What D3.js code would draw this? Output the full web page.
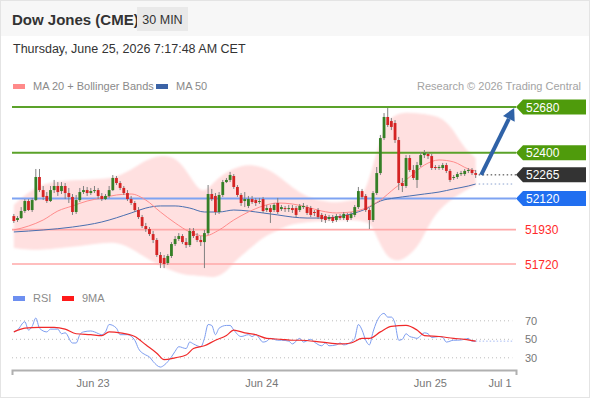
<!DOCTYPE html>
<html>
<head>
<meta charset="utf-8">
<script src="https://cdn.jsdelivr.net/npm/d3@7"></script>
<style>
  body { margin: 0; background: #fff; }
  text { font-family: "Liberation Sans", Arial, sans-serif; }
</style>
</head>
<body>
<svg width="590" height="400"></svg>
<script>
// 30 min candles, Jun 22 evening -> Jun 25 morning
const candleOpen = [52013,51989,52001,52044,52105,52050,52111,52252,52172,52136,
  52105,52172,52197,52166,52197,52154,52130,52038,52111,52160,
  52172,52154,52166,52172,52136,52117,52136,52172,52246,52215,
  52185,52154,52117,52093,52050,52007,51952,51934,51903,51867,
  51775,51757,51726,51769,51842,51873,51891,51854,51836,51922,
  51891,51867,51854,51909,52148,52136,52038,52142,52221,52234,
  52258,52191,52142,52105,52075,52117,52111,52099,52117,52050,
  52062,52050,52093,52056,52062,52056,52062,52062,52050,52068,
  52068,52062,52038,52050,52020,52013,51995,52007,51989,52013,
  52001,52020,52001,52020,52068,52166,52136,52050,51989,52154,
  52276,52490,52619,52594,52582,52478,52215,52197,52368,52295,
  52234,52325,52386,52393,52380,52313,52307,52307,52325,52289,
  52246,52252,52270,52270,52289,52295,52276];
const candleHigh = [52026,52013,52068,52117,52117,52124,52301,52301,52197,52160,
  52197,52234,52221,52221,52215,52185,52148,52142,52185,52197,
  52191,52185,52197,52185,52154,52148,52197,52264,52258,52227,
  52197,52172,52136,52105,52068,52020,51971,51946,51922,51879,
  51793,51775,51781,51854,51891,51909,51903,51879,51940,51940,
  51909,51891,51928,52203,52179,52154,52160,52234,52246,52283,
  52270,52203,52154,52160,52136,52136,52124,52124,52130,52081,
  52081,52093,52124,52081,52075,52081,52081,52075,52087,52093,
  52081,52075,52050,52062,52032,52026,52020,52020,52026,52026,
  52038,52032,52038,52081,52191,52179,52148,52062,52166,52313,
  52509,52643,52674,52613,52600,52497,52246,52386,52386,52325,
  52344,52405,52417,52405,52393,52325,52325,52338,52338,52301,
  52264,52283,52289,52301,52307,52307,52295];
const candleLow = [51971,51977,51995,52032,52044,52038,52105,52160,52111,52093,
  52099,52154,52136,52148,52117,52093,52020,52026,52099,52148,
  52136,52142,52154,52117,52105,52111,52124,52166,52203,52172,
  52142,52105,52081,52038,51995,51940,51916,51891,51848,51763,
  51695,51695,51714,51757,51830,51861,51842,51818,51824,51879,
  51854,51830,51695,51897,52105,52020,52026,52130,52215,52221,
  52179,52130,52075,52068,52062,52087,52075,52087,52032,52038,
  51971,52038,52026,52044,52038,52038,52032,52007,52038,52056,
  52020,52007,52013,51995,51977,51971,51983,51971,51977,51989,
  51989,51977,51989,52007,52056,52117,52038,51934,51977,52142,
  52264,52478,52558,52539,52460,52172,52160,52185,52283,52234,
  52185,52313,52368,52362,52295,52295,52295,52295,52276,52221,
  52234,52240,52258,52258,52276,52264,52246];
const candleClose = [51983,52001,52044,52105,52050,52111,52252,52172,52130,52105,
  52172,52197,52160,52197,52154,52130,52038,52111,52160,52172,
  52154,52166,52172,52136,52117,52136,52172,52246,52215,52185,
  52154,52117,52093,52050,52007,51952,51934,51903,51867,51775,
  51726,51720,51769,51842,51873,51891,51854,51836,51922,51891,
  51867,51854,51909,52148,52117,52038,52142,52221,52234,52264,
  52191,52142,52093,52117,52117,52099,52093,52105,52044,52062,
  52038,52081,52038,52068,52056,52062,52050,52020,52075,52075,
  52032,52020,52032,52007,51995,51989,52007,51983,52013,52001,
  52026,51989,52026,52068,52166,52130,52050,51989,52154,52276,
  52490,52619,52570,52558,52478,52215,52197,52368,52295,52246,
  52325,52386,52399,52380,52307,52307,52313,52325,52289,52234,
  52252,52270,52276,52289,52295,52276,52265];

// indicators at candle positions
const upperAt = [0,4,8,12,16,20,24,28,32,36,40,44,47,50,52,54,56,60,64,68,72,76,80,84,88,92,94,96,98,100,102,106,110,114,117,120,122,124,126];
const upperBand = [52081,52160,52209,52227,52234,52234,52240,52252,52295,52356,52386,52374,52295,52185,52160,52203,52252,52307,52331,52313,52264,52185,52130,52105,52093,52111,52111,52172,52325,52478,52613,52649,52643,52631,52613,52539,52460,52405,52368];
const lowerAt = [0,4,8,12,16,20,24,28,32,36,40,44,48,52,55,58,60,64,68,72,76,80,84,88,92,95,97,98,100,102,105,108,111,114,118,122,126];
const lowerBand = [51818,51806,51806,51818,51824,51836,51848,51854,51818,51757,51708,51671,51647,51647,51634,51671,51732,51806,51885,51928,51965,51977,51983,51983,51989,51983,51971,51940,51836,51757,51732,51775,51848,52001,52093,52154,52203];
const ma20At = [0,4,8,12,16,20,24,28,32,36,40,44,48,52,56,60,64,68,72,76,80,84,88,92,96,100,104,108,112,116,120,124,126];
const ma20 = [51928,51952,51989,52044,52075,52105,52124,52142,52148,52111,52038,51971,51916,51891,51928,51989,52038,52075,52093,52087,52068,52044,52032,52038,52062,52111,52185,52252,52325,52356,52344,52301,52289];
const ma50At = [0,8,16,24,32,36,40,44,48,52,56,60,64,68,72,76,80,84,88,92,96,100,104,108,112,116,120,124,126];
const ma50 = [51916,51928,51946,51977,52032,52062,52075,52075,52062,52038,52038,52050,52044,52032,52020,52007,52001,52001,52007,52026,52056,52105,52124,52136,52148,52160,52179,52197,52209];

const rsiAt = [0,1,3,4,5,6,7,9,10,12,13,14,16,17,18,19,21,22,24,25,26,28,29,31,33,34,36,37,38,40,41,43,44,45,47,48,49,51,52,53,54,55,56,58,59,60,62,64,65,66,68,69,70,72,73,75,76,78,79,81,82,84,85,86,88,89,90,92,93,94,95,96,97,98,99,101,102,103,104,105,106,107,108,109,110,112,113,114,116,117,118,120,121,123,124,125,126];
const rsi = [58,60,69,60,64,73,62,58,61,61,56,57,46,46,55,58,59,58,55,58,66,62,55,55,49,40,33,31,26,20,22,31,37,42,40,47,45,42,51,66,65,55,62,65,65,60,53,55,53,55,47,48,51,49,49,48,45,51,47,50,47,43,46,43,44,46,44,47,51,66,60,49,44,58,69,78,74,74,67,49,50,56,53,52,51,57,56,52,53,52,47,49,49,50,51,48,48];
const rsiMaAt = [0,3,7,11,14,17,21,24,26,29,33,36,39,41,44,47,49,52,55,58,60,63,66,69,73,76,78,84,89,92,95,97,100,103,107,110,112,116,120,123,126];
const rsiMa = [58,62,63,63,61,56,55,54,58,57,53,44,35,28,30,33,40,43,49,54,60,57,55,51,50,49,49,47,45,46,51,51,58,64,65,60,54,53,51,50,48];

const levels = [52680, 52400, 52265, 52120, 51930, 51720];
const levelKind = ["res", "res", "last", "sup", "red", "red"];
const rsiTicks = [70, 50, 30];
const dayAt = [21.5, 67.5, 113.5, 132.5];
const dayLabels = ["Jun 23", "Jun 24", "Jun 25", "Jul 1"];

const green = "#357f26", red = "#d42424";
const lineColor = { res: "#5ba22a", last: "#333", sup: "#7ea3f2", red: "#ffa8a8" };
const tagColor = { res: "#4f9b0c", last: "#333333", sup: "#216ff0" };

const svg = d3.select("svg");

const xScale = d3.scaleLinear().domain([-0.5, 137]).range([12, 516]);
const yScale = d3.scaleLinear().domain([51720, 52680]).range([264, 107]);
const rsiScale = d3.scaleLinear().domain([30, 70]).range([357.8, 320.8]);

// frame + header
svg.append("rect").attr("x", 0.5).attr("y", 0.5).attr("width", 589).attr("height", 397)
  .attr("fill", "#fff").attr("stroke", "#e4e4e4");
svg.append("rect").attr("x", 1).attr("y", 1).attr("width", 588).attr("height", 35).attr("fill", "#f7f7f7");
svg.append("text").text("Dow Jones (CME)").attr("x", 12).attr("y", 25)
  .attr("font-size", 15).attr("font-weight", "bold").attr("fill", "#333");
svg.append("rect").attr("x", 137).attr("y", 7).attr("width", 51).attr("height", 24).attr("fill", "#e9e9e9");
svg.append("text").text("30 MIN").attr("x", 162.5).attr("y", 24).attr("text-anchor", "middle")
  .attr("font-size", 12.5).attr("fill", "#333");
svg.append("text").text("Thursday, June 25, 2026 7:17:48 AM CET").attr("x", 13).attr("y", 53)
  .attr("font-size", 12.5).attr("fill", "#333");

// legend
const legend = (x, color, label, y) => {
  svg.append("rect").attr("x", x).attr("y", y - 6).attr("width", 12).attr("height", 5).attr("fill", color);
  svg.append("text").text(label).attr("x", x + 20).attr("y", y).attr("font-size", 11).attr("fill", "#8a8a8a");
};
legend(13, "#ff8a8a", "MA 20 + Bollinger Bands", 90);
legend(156, "#3b63a6", "MA 50", 90);
svg.append("text").text("Research \u00a9 2026 Trading Central").attr("x", 581).attr("y", 90)
  .attr("text-anchor", "end").attr("font-size", 11).attr("fill", "#a3a3a3");

// bollinger band
const defs = svg.append("defs");
defs.append("filter").attr("id", "soft").append("feGaussianBlur").attr("stdDeviation", 1.2);

const upperFn = d3.scaleLinear().domain(upperAt).range(upperBand);
const lowerFn = d3.scaleLinear().domain(lowerAt).range(lowerBand);
const bandPts = upperAt.map((d, i) => [xScale(d), yScale(upperBand[i])]);
const lowPts = lowerAt.map((d, i) => [xScale(d), yScale(lowerBand[i])]).reverse();
const smooth = d3.line().curve(d3.curveBasis);
svg.append("path")
  .attr("d", smooth(bandPts) + "L" + smooth(lowPts).slice(1) + "Z")
  .attr("fill", "#ffe0e0").attr("filter", "url(#soft)");

// level lines
const graph = svg.append("g");
levels.forEach((v, i) => {
  const kind = levelKind[i];
  const y = yScale(v);
  if (kind === "last") {
    graph.append("line").attr("x1", xScale(126) + 3).attr("x2", xScale(137)).attr("y1", y).attr("y2", y)
      .attr("stroke", "#333").attr("stroke-dasharray", "1.5,2.5");
    return;
  }
  graph.append("line").attr("x1", 12).attr("x2", xScale(137)).attr("y1", y).attr("y2", y)
    .attr("stroke", lineColor[kind]).attr("stroke-width", kind === "red" ? 1.6 : 2);
});

// MA 50 dotted extension
graph.append("line").attr("x1", xScale(126) + 3).attr("x2", xScale(136)).attr("y1", yScale(ma50[ma50.length - 1]))
  .attr("y2", yScale(ma50[ma50.length - 1])).attr("stroke", "#8aa2d0").attr("stroke-dasharray", "1.5,2.5");

// moving averages
const priceLine = d3.line().x(d => xScale(d[0])).y(d => yScale(d[1])).curve(d3.curveMonotoneX);
graph.append("path").attr("d", priceLine(ma50At.map((d, i) => [d, ma50[i]])))
  .attr("fill", "none").attr("stroke", "#4a6fb0").attr("stroke-width", 1);
graph.append("path").attr("d", priceLine(ma20At.map((d, i) => [d, ma20[i]])))
  .attr("fill", "none").attr("stroke", "#ff8c8c").attr("stroke-width", 1);

// candles
const candles = graph.selectAll("g.candle").data(candleClose).enter().append("g");
candles.append("line")
  .attr("x1", (d, i) => xScale(i)).attr("x2", (d, i) => xScale(i))
  .attr("y1", (d, i) => yScale(candleHigh[i])).attr("y2", (d, i) => yScale(candleLow[i]))
  .attr("stroke", "#808080").attr("stroke-width", 1);
candles.append("rect")
  .attr("x", (d, i) => xScale(i) - 1.4).attr("width", 2.8)
  .attr("y", (d, i) => yScale(Math.max(candleOpen[i], d)))
  .attr("height", (d, i) => Math.max(1, Math.abs(yScale(candleOpen[i]) - yScale(d))))
  .attr("fill", (d, i) => d >= candleOpen[i] ? green : red);

// level tags
levels.forEach((v, i) => {
  const kind = levelKind[i];
  const y = yScale(v);
  if (kind === "red") {
    svg.append("text").text(v).attr("x", 525).attr("y", y + 4.5).attr("font-size", 12).attr("fill", "#ff2a2a");
    return;
  }
  svg.append("path")
    .attr("d", `M${xScale(137)},${y}L523,${y - 7.5}L586,${y - 7.5}L586,${y + 7.5}L523,${y + 7.5}Z`)
    .attr("fill", tagColor[kind]);
  svg.append("text").text(v).attr("x", 526).attr("y", y + 4.5).attr("font-size", 12).attr("fill", "#fff");
});

// arrow to target
const ax1 = xScale(127.5), ay1 = yScale(candleClose[126]);
const ax2 = xScale(136.5), ay2 = yScale(levels[0]) + 1;
const ang = Math.atan2(ay2 - ay1, ax2 - ax1);
const hx = ax2 - 12 * Math.cos(ang), hy = ay2 - 12 * Math.sin(ang);
svg.append("line").attr("x1", ax1).attr("y1", ay1).attr("x2", hx).attr("y2", hy)
  .attr("stroke", "#2f62a7").attr("stroke-width", 4);
const px = Math.sin(ang) * 6.5, py = -Math.cos(ang) * 6.5;
svg.append("path")
  .attr("d", `M${ax2},${ay2}L${hx + px},${hy + py}L${hx - px},${hy - py}Z`)
  .attr("fill", "#2f62a7");

// RSI panel
legend(13, "#6d8ff0", "RSI", 302);
legend(62, "#ff1a1a", "9MA", 302);

svg.append("g").selectAll("line").data(rsiTicks).enter().append("line")
  .attr("x1", 12).attr("x2", xScale(136)).attr("y1", d => rsiScale(d)).attr("y2", d => rsiScale(d))
  .attr("stroke", "#bdbdbd").attr("stroke-dasharray", "1,3");
svg.append("g").selectAll("text").data(rsiTicks).enter().append("text")
  .text(d => d).attr("x", 525).attr("y", d => rsiScale(d) + 4).attr("font-size", 11).attr("fill", "#777");

const rsiLine = d3.line().x(d => xScale(d[0])).y(d => rsiScale(d[1])).curve(d3.curveMonotoneX);
svg.append("line").attr("x1", xScale(126)).attr("x2", xScale(136))
  .attr("y1", rsiScale(rsi[rsi.length - 1])).attr("y2", rsiScale(rsi[rsi.length - 1]))
  .attr("stroke", "#a8bcf4").attr("stroke-dasharray", "1.5,2");
svg.append("path").attr("d", rsiLine(rsiAt.map((d, i) => [d, rsi[i]])))
  .attr("fill", "none").attr("stroke", "#7d9df0").attr("stroke-width", 1);
svg.append("path").attr("d", rsiLine(rsiMaAt.map((d, i) => [d, rsiMa[i]])))
  .attr("fill", "none").attr("stroke", "#f02a2a").attr("stroke-width", 1.2);

// time axis
const xAxis = d3.axisBottom(xScale).tickValues(dayAt).tickFormat((d, i) => dayLabels[i])
  .tickSize(0).tickSizeOuter(5).tickPadding(9);
const xAxisG = svg.append("g").attr("transform", "translate(0,370)").call(xAxis);
xAxisG.select(".domain").attr("stroke", "#b0b0b0").attr("stroke-width", 2);
xAxisG.selectAll("text").attr("font-size", 11).attr("fill", "#777")
  .attr("font-family", "Liberation Sans, Arial, sans-serif");
</script>
</body>
</html>
